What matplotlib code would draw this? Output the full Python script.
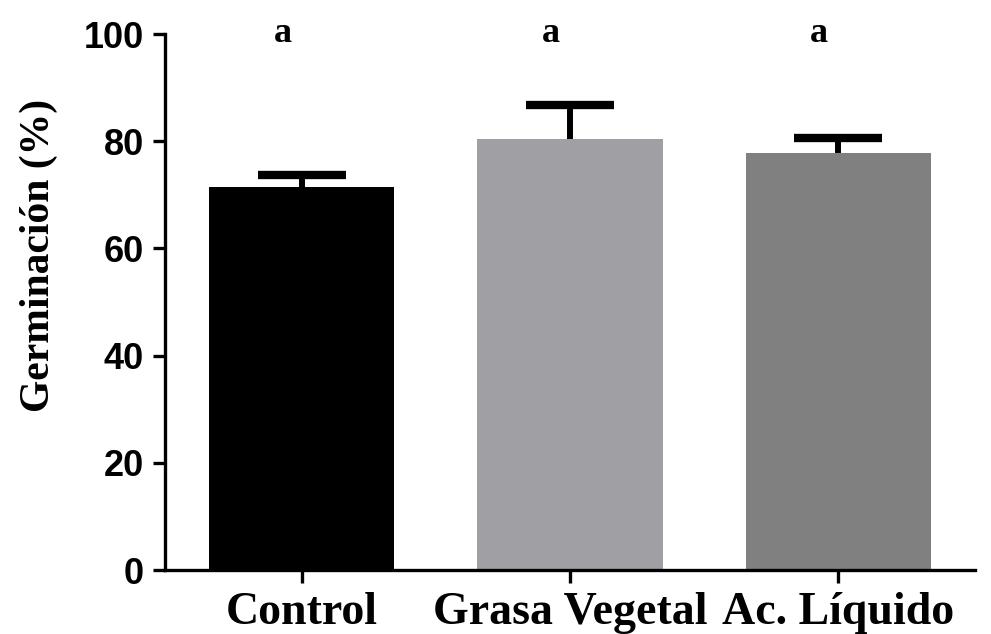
import matplotlib
matplotlib.use("Agg")
import matplotlib.pyplot as plt

# germination per treatment, mean and upper error
treatments = ["Control", "Grasa Vegetal", "Ac. Líquido"]
germination = [71.4, 80.5, 77.8]
error = [2.3, 6.2, 2.8]
letters = ["a", "a", "a"]
colors = ["#000000", "#a09fa4", "#808080"]

serif = "Liberation Serif"
sans = "Liberation Sans"

fig = plt.figure(figsize=(9.91, 6.34), dpi=100)
ax = fig.add_axes([165 / 991, 1 - 570 / 634, 810 / 991, 536 / 634])

x = list(range(len(treatments)))
# error bars sit behind the bars so only the upper half shows
ax.errorbar(x, germination, yerr=error, fmt="none", ecolor="black",
            elinewidth=4.3, capsize=32, capthick=6, zorder=1)
ax.bar(x, germination, width=0.69, color=colors, zorder=2)

for xi, lab in zip(x, letters):
    ax.text(xi - 0.07, 100, lab, ha="center", va="center", fontsize=26,
            fontweight="bold", family=serif, clip_on=False)

ax.set_xlim(-0.51, 2.51)
ax.set_ylim(0, 100)
ax.set_yticks([0, 20, 40, 60, 80, 100])
ax.set_xticks(x)
ax.set_xticklabels(treatments, fontsize=33, fontweight="bold", family=serif)
for t in ax.get_yticklabels():
    t.set_fontsize(26)
    t.set_fontweight("bold")
    t.set_family(sans)

for side in ["top", "right"]:
    ax.spines[side].set_visible(False)
for side in ["left", "bottom"]:
    ax.spines[side].set_linewidth(2.4)
ax.tick_params(axis="both", direction="out", length=9, width=2.4, color="black")
ax.tick_params(axis="y", pad=6)
ax.tick_params(axis="x", pad=7)

fig.text(39 / 991, 1 - 255 / 634, "Germinación (%)", rotation=90, ha="center",
         va="center", fontsize=30, fontweight="bold", family=serif)

fig.savefig("out.png", dpi=100)
